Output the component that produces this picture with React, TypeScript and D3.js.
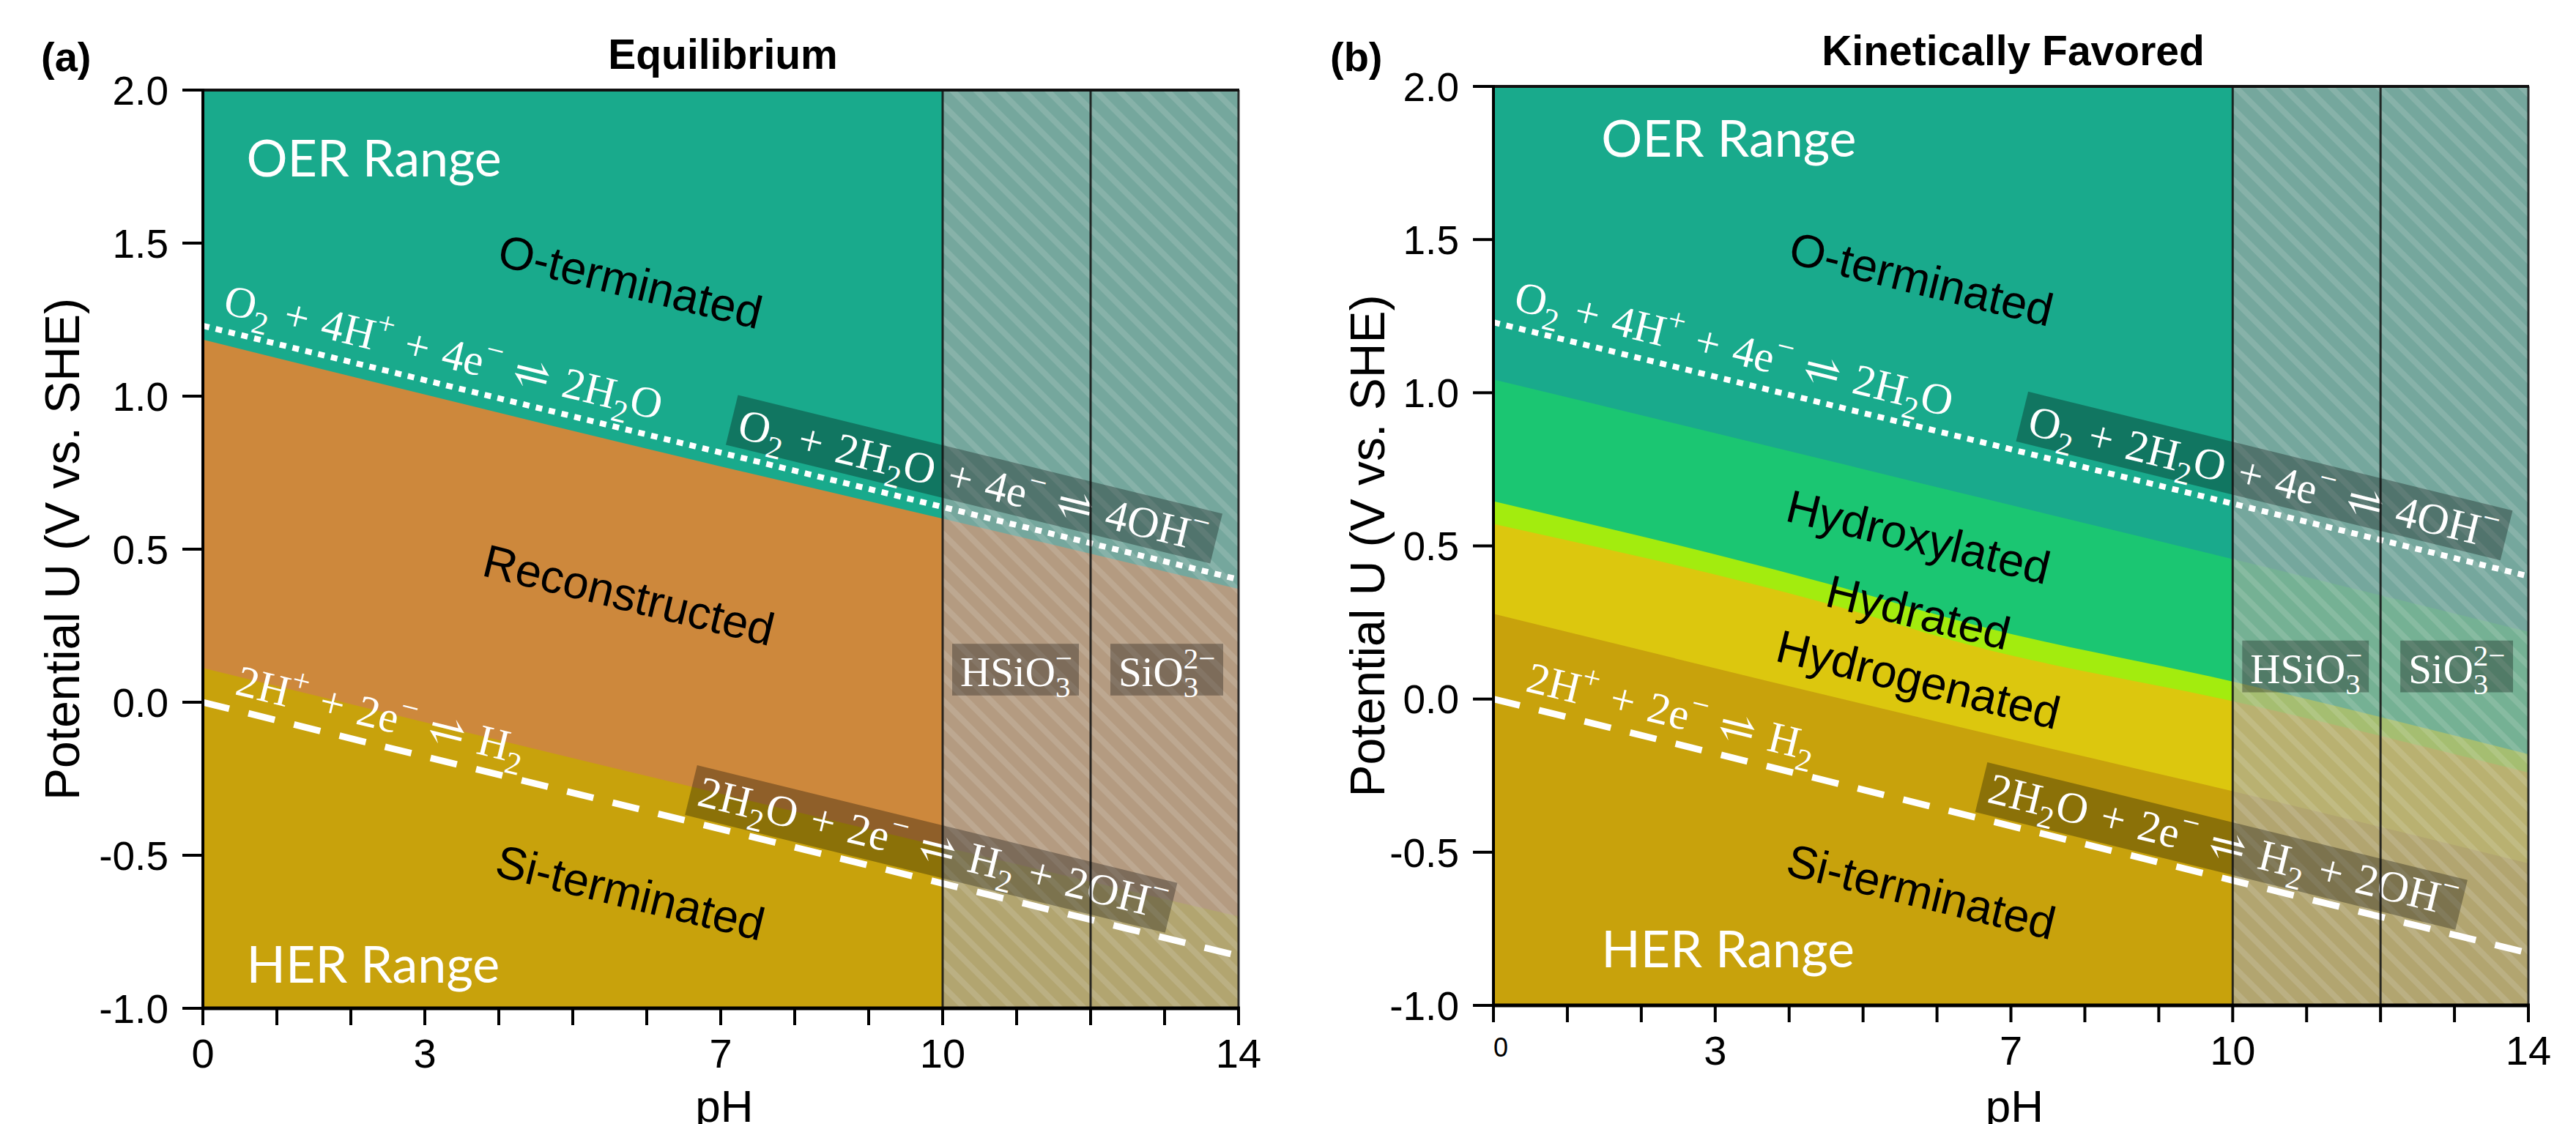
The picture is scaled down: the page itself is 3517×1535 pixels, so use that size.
import React from "react";
import * as d3 from "d3";

const WIDTH = 3517;
const HEIGHT = 1535;

// axes
const phTicks = d3.range(0, 15);
const phTickLabels = [0, 3, 7, 10, 14];
const uTicks = [2, 1.5, 1, 0.5, 0, -0.5, -1];
const uTickLabels = ["2.0", "1.5", "1.0", "0.5", "0.0", "-0.5", "-1.0"];

// water stability lines, [pH, U]
const oerLine = [[0, 1.23], [14, 0.401]];
const herLine = [[0, 0], [14, -0.829]];

// (a) equilibrium phase boundaries, [pH, U]
const eqReconstructedTop = [[0, 1.185], [6.66, 0.79], [10, 0.6], [14, 0.37]];
const eqSiTop = [[0, 0.112], [6.5, -0.27], [14, -0.7]];

// (b) kinetically favored phase boundaries, [pH, U]
const kinHydroxylatedTop = [[0, 1.043], [4.47, 0.782], [6.54, 0.66], [10, 0.457], [14, 0.22]];
const kinHydratedTop = [[0, 0.646], [4.47, 0.38], [6.54, 0.24], [10, 0.057], [14, -0.18]];
const kinHydrogenatedTop = [[0, 0.572], [4.47, 0.315], [6.54, 0.17], [10, -0.007], [14, -0.24]];
const kinSiTop = [[0, 0.278], [6.54, -0.105], [10, -0.301], [14, -0.536]];

const eqPhases = ["O-terminated", "Reconstructed", "Si-terminated"];
const kinPhases = ["O-terminated", "Hydroxylated", "Hydrated", "Hydrogenated", "Si-terminated"];

// silicate species zones (pH from, pH to)
const silicateZones = [[10, 12], [12, 14]];

// chemical formulas: [text, n=normal | b=sub | p=sup | bp=stacked sub|sup]
const oerAcid = [["O", "n"], ["2", "b"], [" + 4H", "n"], ["+", "p"], [" + 4e", "n"], ["−", "p"], [" ⇌ 2H", "n"], ["2", "b"], ["O", "n"]];
const oerBase = [["O", "n"], ["2", "b"], [" + 2H", "n"], ["2", "b"], ["O + 4e", "n"], ["−", "p"], [" ⇌ 4OH", "n"], ["−", "p"]];
const herAcid = [["2H", "n"], ["+", "p"], [" + 2e", "n"], ["−", "p"], [" ⇌ H", "n"], ["2", "b"]];
const herBase = [["2H", "n"], ["2", "b"], ["O + 2e", "n"], ["−", "p"], [" ⇌ H", "n"], ["2", "b"], [" + 2OH", "n"], ["−", "p"]];
const hsio3 = [["HSiO", "n"], ["3|−", "bp"]];
const sio3 = [["SiO", "n"], ["3|2−", "bp"]];

const C = {
  teal: "#19aa8c",
  orange: "#cd883c",
  gold: "#c8a20c",
  green: "#1bc672",
  lime: "#a3ec0e",
  yellow: "#dcc70e",
};

const SANS = "'Liberation Sans', Arial, sans-serif";
const SERIF = "'Liberation Serif', 'DejaVu Serif', serif";
const LABEL = "Lato, 'Open Sans', sans-serif";

const panels = [
  {
    id: "a",
    letter: "(a)",
    title: "Equilibrium",
    x0: 277, x1: 1691, y0: 123, y1: 1377,
    layers: [
      { line: eqReconstructedTop, color: C.orange },
      { line: eqSiTop, color: C.gold },
    ],
    phaseNames: eqPhases,
    phasePos: [[5.78, 1.376], [5.76, 0.352], [5.78, -0.62]],
    oerRange: [0.59, 1.718],
    herRange: [0.59, -0.916],
    yLabelX: 108,
    smallZero: false,
  },
  {
    id: "b",
    letter: "(b)",
    title: "Kinetically Favored",
    x0: 2039, x1: 3452, y0: 118, y1: 1373,
    layers: [
      { line: kinHydroxylatedTop, color: C.green },
      { line: kinHydratedTop, color: C.lime },
      { line: kinHydrogenatedTop, color: C.yellow },
      { line: kinSiTop, color: C.gold },
    ],
    phaseNames: kinPhases,
    phasePos: [[5.79, 1.373], [5.75, 0.531], [5.75, 0.285], [5.75, 0.066], [5.79, -0.627]],
    oerRange: [1.46, 1.77],
    herRange: [1.46, -0.876],
    yLabelX: 1890,
    smallZero: true,
  },
];

function Formula({ segs, fs, ...rest }: any) {
  let shift = 0;
  const spans: any[] = [];
  const sub = fs * 0.26;
  const sup = -fs * 0.42;
  segs.forEach(([t, k]: [string, string], i: number) => {
    if (k === "n") {
      spans.push(<tspan key={i} dy={-shift}>{t}</tspan>);
      shift = 0;
    } else if (k === "b") {
      spans.push(<tspan key={i} dy={sub - shift} fontSize={fs * 0.72}>{t}</tspan>);
      shift = sub;
    } else if (k === "p") {
      spans.push(<tspan key={i} dy={sup - shift} fontSize={fs * 0.72}>{t}</tspan>);
      shift = sup;
    } else {
      const [lo, hi] = t.split("|");
      spans.push(<tspan key={i + "l"} dy={sub - shift} fontSize={fs * 0.72}>{lo}</tspan>);
      spans.push(
        <tspan key={i + "h"} dx={-fs * 0.72 * 0.5 * lo.length} dy={sup - sub} fontSize={fs * 0.72}>{hi}</tspan>
      );
      shift = sup;
    }
  });
  return (
    <text fontFamily={SERIF} fontSize={fs} fill="#fff" style={{ whiteSpace: "pre" }} {...rest}>
      {spans}
    </text>
  );
}

function Panel({ p }: any) {
  const x = d3.scaleLinear().domain([0, 14]).range([p.x0, p.x1]);
  const y = d3.scaleLinear().domain([-1, 2]).range([p.y1, p.y0]);
  const area = d3
    .area<number[]>()
    .curve(d3.curveMonotoneX)
    .x((d) => x(d[0]))
    .y0(y(-1))
    .y1((d) => y(d[1]));
  const line = d3.line<number[]>().x((d) => x(d[0])).y((d) => y(d[1]));
  const oerU = d3.scaleLinear().domain(oerLine.map((d) => d[0])).range(oerLine.map((d) => d[1]));
  const herU = d3.scaleLinear().domain(herLine.map((d) => d[0])).range(herLine.map((d) => d[1]));
  const ang = (Math.atan2(y(oerU(14)) - y(oerU(0)), x(14) - x(0)) * 180) / Math.PI;
  const clip = `clip-${p.id}`;
  const cx = (p.x0 + p.x1) / 2;
  const fsEq = 60;
  const along = (fn: any, ph: number) => `translate(${x(ph)},${y(fn(ph))}) rotate(${ang})`;

  return (
    <g>
      <defs>
        <clipPath id={clip}>
          <rect x={p.x0} y={p.y0} width={p.x1 - p.x0} height={p.y1 - p.y0} />
        </clipPath>
      </defs>
      <g clipPath={`url(#${clip})`}>
        <rect x={p.x0} y={p.y0} width={p.x1 - p.x0} height={p.y1 - p.y0} fill={C.teal} />
        {p.layers.map((l: any, i: number) => (
          <path key={i} d={area(l.line) as string} fill={l.color} />
        ))}
        {/* silicate region overlay */}
        <rect x={x(10)} y={p.y0} width={x(14) - x(10)} height={p.y1 - p.y0} fill="url(#hatch)" />
        {/* water lines */}
        <path d={line(oerLine) as string} fill="none" stroke="#fff" strokeWidth={8} strokeDasharray="9 9" />
        <path d={line(herLine) as string} fill="none" stroke="#fff" strokeWidth={9} strokeDasharray="37 27" />
      </g>

      {/* equation boxes */}
      <g transform={along(oerU, 7.04)}>
        <rect x={0} y={-82} width={681} height={70} fill="rgba(0,0,0,0.3)" />
        <Formula segs={oerBase} fs={fsEq} x={11} y={-25} wordSpacing={4} />
      </g>
      <g transform={along(herU, 6.5)}>
        <rect x={0} y={-77} width={675} height={70} fill="rgba(0,0,0,0.3)" />
        <Formula segs={herBase} fs={fsEq} x={11} y={-24} wordSpacing={4} />
      </g>
      <g transform={along(oerU, 0.2)}>
        <Formula segs={oerAcid} fs={fsEq} x={0} y={-23} wordSpacing={4} />
      </g>
      <g transform={along(herU, 0.37)}>
        <Formula segs={herAcid} fs={fsEq} x={0} y={-21} wordSpacing={4} />
      </g>

      {/* silicate species labels */}
      {silicateZones.map(([a, b], i) => {
        const bx0 = x(a) + (i === 0 ? 13 : 27);
        const bx1 = x(b) - (i === 0 ? 16 : 21);
        return (
          <g key={i}>
            <rect x={bx0} y={y(0.191)} width={bx1 - bx0} height={y(0.022) - y(0.191)} fill="rgba(0,0,0,0.3)" />
            <Formula segs={i === 0 ? hsio3 : sio3} fs={57} x={bx0 + 11} y={y(0.052)} />
          </g>
        );
      })}

      {/* phase labels */}
      {p.phaseNames.map((t: string, i: number) => (
        <text
          key={t + i}
          transform={`translate(${x(p.phasePos[i][0])},${y(p.phasePos[i][1])}) rotate(${ang})`}
          textAnchor="middle"
          dy="0.36em"
          fontFamily={SANS}
          fontSize={63}
          fill="#000"
        >
          {t}
        </text>
      ))}
      <text x={x(p.oerRange[0])} y={y(p.oerRange[1])} fontFamily={LABEL} fontSize={70} fill="#fff">
        OER Range
      </text>
      <text x={x(p.herRange[0])} y={y(p.herRange[1])} fontFamily={LABEL} fontSize={70} fill="#fff">
        HER Range
      </text>

      {/* zone separators and frame */}
      {[10, 12, 14].map((v) => (
        <line key={v} x1={x(v)} x2={x(v)} y1={p.y0} y2={p.y1} stroke="#111" strokeOpacity={0.85} strokeWidth={3} />
      ))}
      <line x1={p.x0} x2={p.x1 + 1} y1={p.y0} y2={p.y0} stroke="#111" strokeWidth={4} />
      <line x1={p.x0 - 2} x2={p.x1 + 2} y1={p.y1} y2={p.y1} stroke="#000" strokeWidth={5} />
      <line x1={p.x0} x2={p.x0} y1={p.y0 - 2} y2={p.y1 + 2} stroke="#000" strokeWidth={4} />

      {/* y axis */}
      {uTicks.map((u, i) => (
        <g key={u}>
          <line x1={p.x0 - 28} x2={p.x0} y1={y(u)} y2={y(u)} stroke="#000" strokeWidth={4} />
          <text x={p.x0 - 47} y={y(u)} dy="0.36em" textAnchor="end" fontFamily={SANS} fontSize={55}>
            {uTickLabels[i]}
          </text>
        </g>
      ))}
      {/* x axis */}
      {phTicks.map((t) => (
        <line key={t} x1={x(t)} x2={x(t)} y1={p.y1} y2={p.y1 + 23} stroke="#000" strokeWidth={4} />
      ))}
      {phTickLabels.map((t) =>
        p.smallZero && t === 0 ? (
          <text key={t} x={x(t) + 10} y={p.y1 + 70} textAnchor="middle" fontFamily={SANS} fontSize={36}>
            {t}
          </text>
        ) : (
          <text key={t} x={x(t)} y={p.y1 + 81} textAnchor="middle" fontFamily={SANS} fontSize={56}>
            {t}
          </text>
        )
      )}
      <text x={cx + 5} y={1532} textAnchor="middle" fontFamily={SANS} fontSize={62}>
        pH
      </text>
      <text
        transform={`translate(${p.yLabelX},${(p.y0 + p.y1) / 2}) rotate(-90)`}
        textAnchor="middle"
        fontFamily={SANS}
        fontSize={66}
      >
        Potential U (V vs. SHE)
      </text>

      {/* titles */}
      <text x={cx + 3} y={p.y0 - 29} textAnchor="middle" fontFamily={SANS} fontWeight="bold" fontSize={57}>
        {p.title}
      </text>
      <text x={p.id === "a" ? 56 : 1816} y={97} fontFamily={SANS} fontWeight="bold" fontSize={56}>
        {p.letter}
      </text>
    </g>
  );
}

export default function App() {
  return (
    <svg
      width={WIDTH}
      height={HEIGHT}
      viewBox={`0 0 ${WIDTH} ${HEIGHT}`}
      style={{ position: "absolute", left: 0, top: 0, display: "block", background: "#fff" }}
    >
      <defs>
        <pattern id="hatch" width={23} height={23} patternUnits="userSpaceOnUse" patternTransform="rotate(-45)">
          <rect width={23} height={23} fill="rgba(166,166,166,0.65)" />
          <rect width={8} height={23} fill="rgba(255,255,255,0.13)" />
        </pattern>
      </defs>
      {panels.map((p) => (
        <Panel key={p.id} p={p} />
      ))}
    </svg>
  );
}
